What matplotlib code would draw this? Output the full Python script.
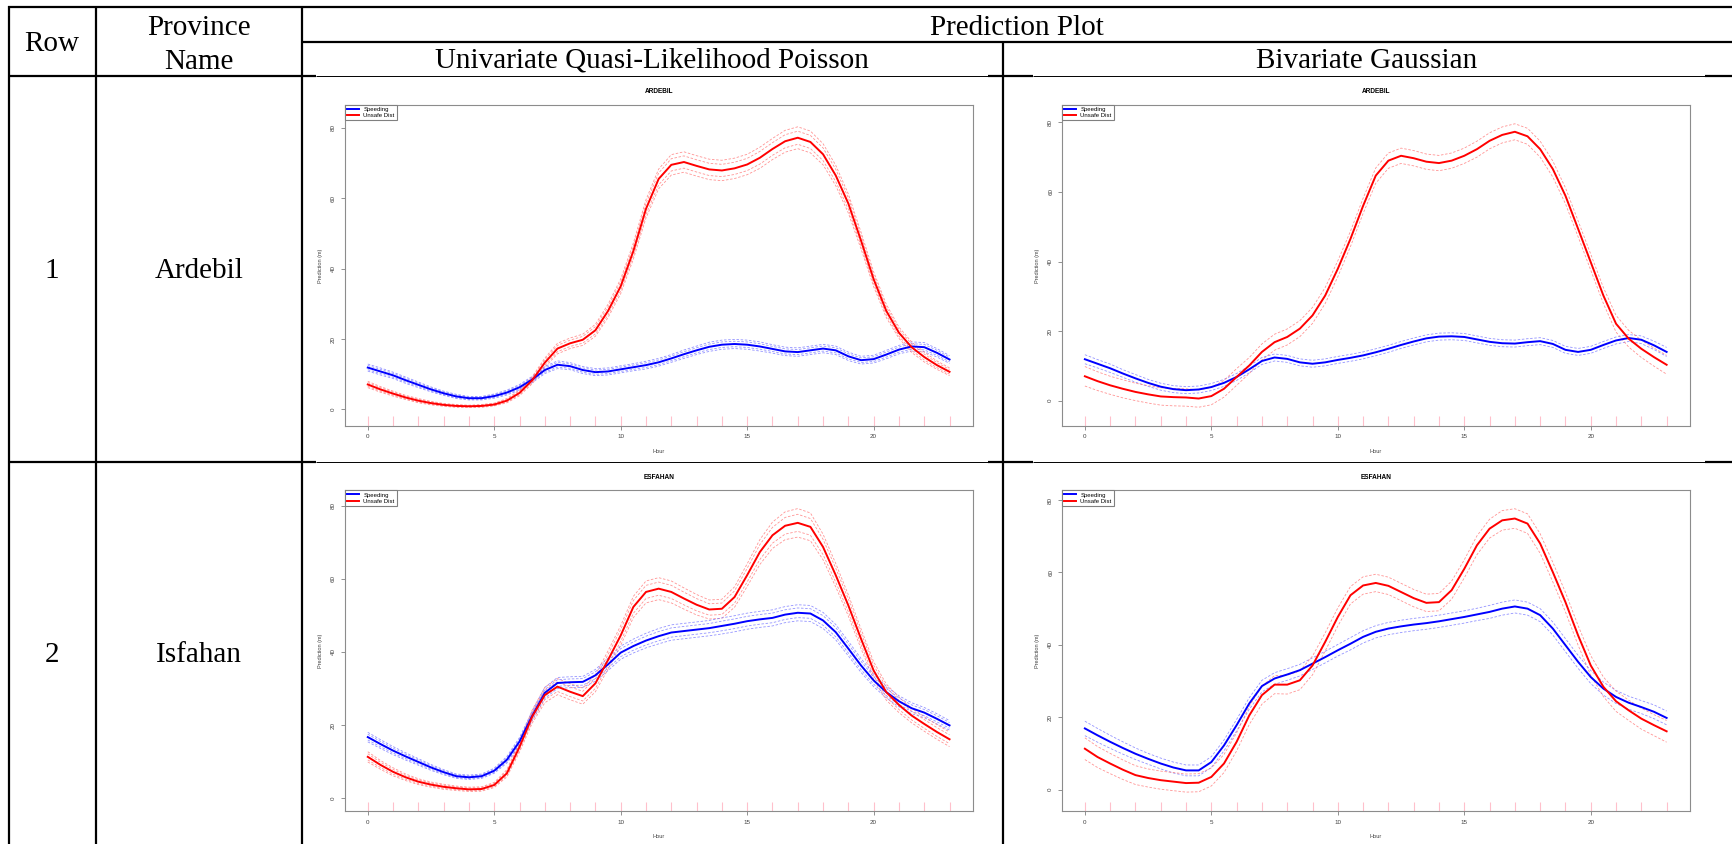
"""
Table of prediction plots: rows = provinces, columns = model type.
Each cell holds an R-style plot of predicted counts by hour with
dashed confidence bands and a rug of observed hours.
"""
import numpy as np
import matplotlib
matplotlib.use("Agg")
import matplotlib.pyplot as plt
from matplotlib.lines import Line2D

# ---------------------------------------------------------------------------
# Data (half-hour grid 0..23)
# ---------------------------------------------------------------------------
hours = np.arange(0, 23.5, 0.5)
rug_hours = np.arange(0, 24)

row_numbers = ['1', '2']
provinces = ['Ardebil', 'Isfahan']
plot_titles = ['ARDEBIL', 'ESFAHAN']
model_names = ['Univariate Quasi-Likelihood Poisson', 'Bivariate Gaussian']
series_names = ['Speeding', 'Unsafe Dist']

# Ardebil - univariate quasi-likelihood Poisson
ard_uni_speed = [11.9, 10.8, 9.7, 8.3, 7.0, 5.7, 4.6, 3.7, 3.2, 3.2,
                 3.8, 4.8, 6.3, 8.5, 11.2, 12.7, 12.3, 11.2, 10.6, 10.8,
                 11.4, 12.0, 12.6, 13.4, 14.5, 15.7, 16.8, 17.8, 18.4, 18.6,
                 18.4, 17.9, 17.2, 16.5, 16.3, 16.8, 17.3, 16.8, 15.1, 14.0,
                 14.3, 15.6, 17.0, 17.9, 17.7, 16.1, 14.2]
ard_uni_speed_hw = [1.0, 1.0, 0.9, 0.9, 0.8, 0.7, 0.6, 0.6, 0.5, 0.5,
                    0.6, 0.7, 0.8, 0.9, 1.0, 1.1, 1.0, 1.0, 1.0, 1.0,
                    1.0, 1.0, 1.1, 1.1, 1.1, 1.2, 1.2, 1.3, 1.3, 1.3,
                    1.3, 1.3, 1.2, 1.2, 1.2, 1.2, 1.2, 1.2, 1.2, 1.1,
                    1.1, 1.2, 1.2, 1.3, 1.3, 1.2, 1.1]
ard_uni_unsafe = [7.1, 5.7, 4.5, 3.4, 2.5, 1.8, 1.3, 1.0, 0.9, 1.0,
                  1.4, 2.5, 4.7, 8.3, 13.3, 17.3, 18.8, 19.8, 22.5, 28.0,
                  35.0, 45.0, 57.0, 65.5, 69.5, 70.3, 69.2, 68.2, 67.9, 68.5,
                  69.6, 71.5, 74.0, 76.2, 77.2, 76.0, 72.5, 66.5, 58.5, 48.0,
                  37.0, 28.0, 21.8, 17.7, 14.9, 12.6, 10.7]
ard_uni_unsafe_hw = [0.9, 0.8, 0.7, 0.6, 0.6, 0.5, 0.4, 0.4, 0.3, 0.4,
                     0.4, 0.6, 0.8, 1.0, 1.3, 1.5, 1.5, 1.6, 1.7, 1.9,
                     2.1, 2.3, 2.6, 2.8, 2.9, 2.9, 2.9, 2.9, 2.9, 2.9,
                     2.9, 3.0, 3.0, 3.1, 3.1, 3.1, 3.0, 2.9, 2.7, 2.4,
                     2.1, 1.9, 1.6, 1.5, 1.4, 1.2, 1.1]

# Ardebil - bivariate Gaussian
ard_biv_speed = [11.9, 10.6, 9.3, 7.8, 6.4, 5.1, 4.0, 3.3, 3.0, 3.2,
                 3.9, 5.1, 6.8, 9.0, 11.4, 12.4, 12.0, 11.0, 10.6, 11.0,
                 11.7, 12.3, 13.0, 13.9, 14.9, 16.0, 17.0, 17.9, 18.4, 18.5,
                 18.3, 17.6, 16.9, 16.5, 16.4, 16.8, 17.1, 16.3, 14.6, 14.0,
                 14.6, 16.0, 17.3, 18.0, 17.5, 15.9, 14.0]
ard_biv_speed_hw = [1.3, 1.2, 1.2, 1.1, 1.1, 1.0, 1.0, 1.0, 1.0, 1.0,
                    1.0, 1.0, 1.0, 1.0, 1.0, 1.0, 1.0, 1.0, 1.0, 1.0,
                    1.0, 1.0, 1.0, 1.0, 1.0, 1.0, 1.0, 1.0, 1.0, 1.0,
                    1.0, 1.0, 1.0, 1.0, 1.0, 1.0, 1.0, 1.0, 1.0, 1.0,
                    1.0, 1.0, 1.0, 1.0, 1.1, 1.2, 1.3]
ard_biv_unsafe = [7.0, 5.6, 4.4, 3.4, 2.5, 1.8, 1.2, 1.0, 0.9, 0.6,
                  1.3, 3.4, 6.8, 10.1, 14.0, 16.8, 18.3, 20.7, 24.5, 30.2,
                  37.9, 46.5, 56.0, 64.7, 69.0, 70.4, 69.7, 68.7, 68.3, 69.0,
                  70.4, 72.3, 74.7, 76.4, 77.3, 76.0, 72.3, 66.6, 58.9, 49.4,
                  39.8, 30.2, 22.1, 17.8, 14.9, 12.5, 10.3]
ard_biv_unsafe_hw = [2.8, 2.7, 2.6, 2.6, 2.5, 2.5, 2.5, 2.5, 2.5, 2.5,
                     2.5, 2.4, 2.4, 2.3, 2.3, 2.3, 2.3, 2.3, 2.3, 2.3,
                     2.3, 2.2, 2.2, 2.2, 2.2, 2.2, 2.2, 2.2, 2.2, 2.2,
                     2.2, 2.3, 2.3, 2.3, 2.3, 2.3, 2.3, 2.3, 2.3, 2.3,
                     2.3, 2.3, 2.4, 2.4, 2.5, 2.6, 2.7]

# Esfahan - univariate quasi-likelihood Poisson
esf_uni_speed = [16.7, 14.8, 13.0, 11.4, 9.9, 8.4, 7.1, 6.0, 5.7, 6.0,
                 7.5, 10.5, 15.5, 22.5, 28.8, 31.5, 31.7, 31.8, 33.6, 36.6,
                 39.8, 41.6, 43.1, 44.3, 45.3, 45.7, 46.1, 46.5, 47.1, 47.7,
                 48.4, 48.9, 49.3, 50.2, 50.7, 50.5, 48.6, 45.4, 40.9, 36.3,
                 32.2, 29.0, 26.5, 24.6, 23.4, 21.7, 19.9]
esf_uni_speed_hw = [1.3, 1.2, 1.1, 1.0, 0.9, 0.8, 0.7, 0.6, 0.6, 0.6,
                    0.7, 0.9, 1.1, 1.3, 1.5, 1.5, 1.5, 1.5, 1.6, 1.7,
                    1.8, 1.9, 2.0, 2.1, 2.1, 2.1, 2.1, 2.1, 2.2, 2.2,
                    2.2, 2.2, 2.2, 2.2, 2.2, 2.2, 2.2, 2.1, 2.0, 1.9,
                    1.7, 1.6, 1.5, 1.5, 1.4, 1.4, 1.3]
esf_uni_unsafe = [11.3, 9.1, 7.2, 5.7, 4.5, 3.7, 3.1, 2.7, 2.4, 2.5,
                  3.6, 6.8, 14.0, 22.3, 28.2, 30.5, 29.1, 27.9, 31.4, 37.8,
                  44.5, 52.3, 56.4, 57.3, 56.4, 54.6, 52.9, 51.6, 51.8, 55.0,
                  61.0, 67.3, 71.9, 74.5, 75.3, 74.2, 68.7, 61.0, 52.7, 43.6,
                  34.9, 29.0, 25.5, 22.6, 20.3, 18.1, 16.1]
esf_uni_unsafe_hw = [1.4, 1.2, 1.1, 0.9, 0.8, 0.7, 0.7, 0.6, 0.6, 0.6,
                     0.7, 1.0, 1.4, 1.8, 2.1, 2.2, 2.2, 2.2, 2.3, 2.5,
                     2.7, 2.9, 3.0, 3.0, 3.0, 2.9, 2.8, 2.6, 2.6, 2.8,
                     3.1, 3.4, 3.6, 3.8, 3.9, 3.8, 3.5, 3.2, 2.9, 2.7,
                     2.4, 2.2, 2.1, 2.0, 2.0, 2.0, 2.0]

# Esfahan - bivariate Gaussian
esf_biv_speed = [16.9, 15.0, 13.2, 11.5, 9.9, 8.5, 7.2, 6.1, 5.3, 5.3,
                 7.6, 12.2, 17.8, 23.8, 28.6, 30.7, 31.8, 33.0, 34.8, 36.6,
                 38.5, 40.3, 42.2, 43.6, 44.5, 45.1, 45.6, 46.0, 46.5, 47.1,
                 47.7, 48.4, 49.1, 50.0, 50.6, 50.0, 48.2, 44.5, 39.9, 35.3,
                 31.1, 27.9, 25.6, 24.0, 22.8, 21.5, 19.8]
esf_biv_speed_hw = [2.0, 1.9, 1.8, 1.7, 1.6, 1.5, 1.5, 1.5, 1.5, 1.5,
                    1.5, 1.5, 1.6, 1.6, 1.6, 1.6, 1.6, 1.6, 1.6, 1.6,
                    1.6, 1.7, 1.7, 1.7, 1.7, 1.7, 1.7, 1.7, 1.7, 1.7,
                    1.7, 1.7, 1.8, 1.8, 1.8, 1.8, 1.8, 1.8, 1.8, 1.8,
                    1.8, 1.8, 1.8, 1.8, 1.8, 1.9, 1.9]
esf_biv_unsafe = [11.3, 9.0, 7.2, 5.5, 4.0, 3.2, 2.6, 2.2, 1.8, 1.9,
                  3.5, 7.2, 13.2, 20.5, 26.1, 29.0, 29.0, 30.2, 34.3, 40.8,
                  47.7, 53.7, 56.4, 57.1, 56.3, 54.6, 52.9, 51.6, 51.8, 55.1,
                  61.0, 67.5, 72.1, 74.4, 74.9, 73.5, 68.0, 60.1, 51.8, 42.6,
                  34.3, 28.4, 24.4, 21.9, 19.6, 17.8, 16.1]
esf_biv_unsafe_hw = [3.0, 2.9, 2.8, 2.7, 2.6, 2.5, 2.5, 2.5, 2.5, 2.5,
                     2.5, 2.5, 2.5, 2.5, 2.5, 2.5, 2.6, 2.6, 2.6, 2.5,
                     2.5, 2.4, 2.4, 2.4, 2.4, 2.4, 2.4, 2.4, 2.4, 2.5,
                     2.5, 2.6, 2.6, 2.7, 2.7, 2.7, 2.7, 2.7, 2.7, 2.7,
                     2.7, 2.7, 2.8, 2.8, 2.9, 2.9, 3.0]

# ---------------------------------------------------------------------------
# Figure + table grid (drawn in pixel coordinates on a background axes)
# ---------------------------------------------------------------------------
W, H = 1732, 844
fig = plt.figure(figsize=(W / 100, H / 100), dpi=100)
bg = fig.add_axes([0, 0, 1, 1])
bg.set_xlim(0, W)
bg.set_ylim(H, 0)
bg.axis('off')

THICK, THIN = 1.6, 0.7


def hline(y, x0, x1, lw=THICK):
    bg.plot([x0, x1], [y, y], color='black', lw=lw, solid_capstyle='butt')


def vline(x, y0, y1, lw=THICK):
    bg.plot([x, x], [y0, y1], color='black', lw=lw, solid_capstyle='butt')


hline(7, 8, W)
hline(41.7, 302, W)
# the plot images sit over parts of these two rules, so they look thinner there
for y in (76.3, 461.7):
    hline(y, 8, 316)
    hline(y, 316, 988, THIN)
    hline(y, 988, 1033)
    hline(y, 1033, 1705, THIN)
    hline(y, 1705, W)
vline(9, 6, H)
vline(96, 6, H)
vline(302, 6, H)
vline(1003, 41, H)

serif = dict(family='Liberation Serif', fontsize=21, ha='center', va='baseline')
bg.text(52, 51, 'Row', **serif)
bg.text(199, 35, 'Province', **serif)
bg.text(199, 69, 'Name', **serif)
bg.text(1017, 35, 'Prediction Plot', **serif)
bg.text(652, 68, model_names[0], **serif)
bg.text(1367, 68, model_names[1], **serif)
for num, prov, yb in zip(row_numbers, provinces, (278, 662)):
    bg.text(52, yb, num, **serif)
    bg.text(199, yb, prov, **serif)

# ---------------------------------------------------------------------------
# The four R-style prediction plots
# ---------------------------------------------------------------------------
SANS = 'Liberation Sans'
BLUE, RED = '#0000FF', '#FF0000'
BLUE_BAND, RED_BAND = '#7070FF', '#FF7070'

cells = [
    # (row, col, title, ylim, speed, speed_hw, unsafe, unsafe_hw)
    (0, 0, plot_titles[0], (-4.7, 86.5), ard_uni_speed, ard_uni_speed_hw, ard_uni_unsafe, ard_uni_unsafe_hw),
    (0, 1, plot_titles[0], (-7.3, 85.0), ard_biv_speed, ard_biv_speed_hw, ard_biv_unsafe, ard_biv_unsafe_hw),
    (1, 0, plot_titles[1], (-3.6, 84.2), esf_uni_speed, esf_uni_speed_hw, esf_uni_unsafe, esf_uni_unsafe_hw),
    (1, 1, plot_titles[1], (-6.0, 82.7), esf_biv_speed, esf_biv_speed_hw, esf_biv_unsafe, esf_biv_unsafe_hw),
]
col_left = [344.5, 1061.6]
row_top = [105.0, 490.3]
box_w, box_h = 628.3, 321.0

for r, c, title, ylim, sp, sp_hw, us, us_hw in cells:
    left, top = col_left[c], row_top[r]
    ax = fig.add_axes([left / W, 1 - (top + box_h) / H, box_w / W, box_h / H])
    ax.set_facecolor('white')
    sp, sp_hw = np.array(sp), np.array(sp_hw)
    us, us_hw = np.array(us), np.array(us_hw)

    # rug of observed hours
    y0, y1 = ylim
    ax.vlines(rug_hours, y0, y0 + 0.03 * (y1 - y0), color='#FFC0CB', lw=0.8)

    # confidence bands (dashed)
    fracs = (1.0, 0.6) if c == 0 else (1.0,)
    for f in fracs:
        for sgn in (-1, 1):
            ax.plot(hours, sp + sgn * f * sp_hw, color=BLUE_BAND, lw=0.6,
                    ls=(0, (3, 2)), alpha=0.75)
            ax.plot(hours, us + sgn * f * us_hw, color=RED_BAND, lw=0.6,
                    ls=(0, (3, 2)), alpha=0.75)
    ax.plot(hours, sp, color=BLUE, lw=1.4)
    ax.plot(hours, us, color=RED, lw=1.4)

    ax.set_xlim(-0.92, 23.92)
    ax.set_ylim(*ylim)
    ax.set_xticks([0, 5, 10, 15, 20])
    ax.set_yticks([0, 20, 40, 60, 80])
    ax.set_xticklabels(['0', '5', '10', '15', '20'], family=SANS)
    ax.set_yticklabels(['0', '20', '40', '60', '80'], family=SANS,
                       rotation=90, va='center')
    ax.tick_params(length=2.9, width=0.6, color='#808080', labelsize=4.5,
                   labelcolor='#404040', pad=3.2)
    for s in ax.spines.values():
        s.set_color('#8c8c8c')
        s.set_linewidth(0.8)

    ax.text(0.5, 1.0405, title, transform=ax.transAxes, ha='center',
            va='center', fontsize=4.7, fontweight='bold', family=SANS)
    ax.text(0.5, -0.078, 'Hour', transform=ax.transAxes, ha='center',
            va='center', fontsize=4.0, color='#404040', family=SANS)
    ax.text(-0.038, 0.5, 'Prediction (m)', transform=ax.transAxes,
            ha='center', va='center', rotation=90, fontsize=4.0,
            color='#404040', family=SANS)

    handles = [Line2D([], [], color=BLUE, lw=1.4), Line2D([], [], color=RED, lw=1.4)]
    leg = ax.legend(handles, series_names, loc='upper left', bbox_to_anchor=(0, 1),
                    borderaxespad=0, fontsize=4.3, frameon=True, fancybox=False,
                    edgecolor='#808080', framealpha=1, handlelength=2.0,
                    handletextpad=0.8, labelspacing=0.15, borderpad=0.35,
                    prop={'family': SANS, 'size': 4.3})
    leg.get_frame().set_linewidth(0.8)

fig.savefig('out.png', dpi=100)
